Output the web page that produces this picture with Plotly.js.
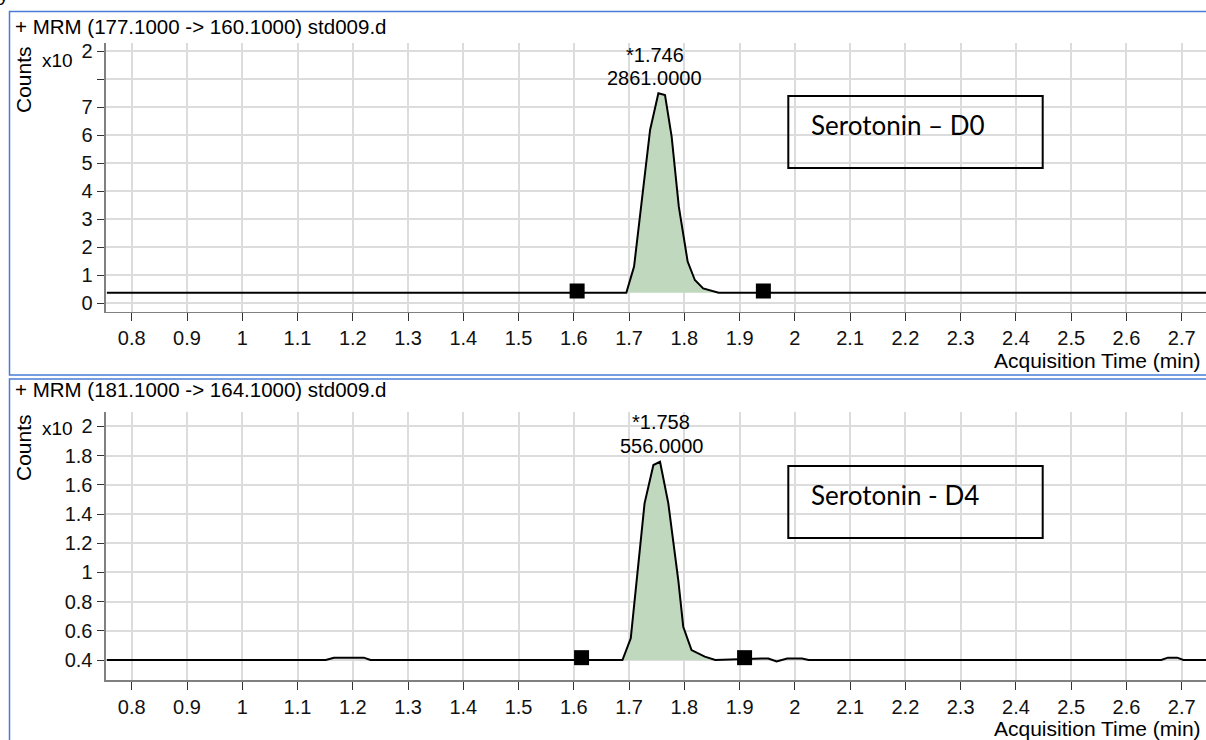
<!DOCTYPE html>
<html><head><meta charset="utf-8">
<script src="https://cdn.plot.ly/plotly-3.0.1.min.js"></script>
<style>html,body{margin:0;padding:0;background:#fff}#chart{width:1206px;height:740px}</style>
</head><body><div id="chart"></div>
<script>
// ---------- DATA ----------
// Panel 1: + MRM (177.1000 -> 160.1000) std009.d   (Counts x10^2)
const timeD0   = [0.755, 1.695, 1.709, 1.738, 1.753, 1.765, 1.777, 1.790, 1.806, 1.819, 1.834, 1.862, 2.745];
const countsD0 = [0.38,  0.38,  1.31,  6.19,  7.50,  7.44,  5.95,  3.45,  1.49,  0.83,  0.53,  0.38,  0.38];
const limitsTimeD0   = [1.606, 1.943];
const limitsCountsD0 = [0.44, 0.44];

// Panel 2: + MRM (181.1000 -> 164.1000) std009.d   (Counts x10^2)
const timeD4   = [0.755, 1.151, 1.166, 1.220, 1.232, 1.688, 1.703, 1.728, 1.744, 1.756, 1.771, 1.789, 1.798, 1.813, 1.837, 1.856,
                  1.940, 1.952, 1.967, 1.986, 2.013, 2.025, 2.663, 2.675, 2.692, 2.703, 2.745];
const countsD4 = [0.40,  0.40,  0.416, 0.416, 0.40,  0.40,  0.549, 1.473, 1.736, 1.758, 1.473, 0.948, 0.628, 0.468, 0.423, 0.40,
                  0.41,  0.41,  0.39,  0.41,  0.41,  0.40,  0.40,  0.416, 0.416, 0.40,  0.40];
const limitsTimeD4   = [1.614, 1.909];
const limitsCountsD4 = [0.416, 0.416];

const headers   = ["+ MRM (177.1000 -> 160.1000) std009.d", "+ MRM (181.1000 -> 164.1000) std009.d"];
const peakRT    = [1.746, 1.758];
const peakArea  = [2861.0, 556.0];
const boxLabels = ["Serotonin \u2013 D0", "Serotonin - D4"];

const xTickVals = [0.8, 0.9, 1.0, 1.1, 1.2, 1.3, 1.4, 1.5, 1.6, 1.7, 1.8, 1.9, 2.0, 2.1, 2.2, 2.3, 2.4, 2.5, 2.6, 2.7];
const xTickText = ["0.8","0.9","1","1.1","1.2","1.3","1.4","1.5","1.6","1.7","1.8","1.9","2","2.1","2.2","2.3","2.4","2.5","2.6","2.7"];
const y1TickVals = [0, 1, 2, 3, 4, 5, 6, 7, 8, 9];
const y1TickText = ["0","1","2","3","4","5","6","7","","2"];
const y2TickVals = [0.4, 0.6, 0.8, 1.0, 1.2, 1.4, 1.6, 1.8, 2.0];
const y2TickText = ["0.4","0.6","0.8","1","1.2","1.4","1.6","1.8","2"];
const xTitle = "Acquisition Time (min)";
const yTitle = "Counts";
const scaleText = "x10";

// ---------- HELPERS ----------
const W = 1206, H = 740;
const px = v => v / W;
const py = v => 1 - v / H;
const FONT = "Liberation Sans, Arial, sans-serif";

function fillTrace(t, c, lim, xa, ya) {
  const xs = [], ys = [];
  for (let i = 0; i < t.length; i++) {
    if (t[i] >= lim[0] && t[i] <= lim[1]) { xs.push(t[i]); ys.push(c[i]); }
  }
  return {x: xs, y: ys, xaxis: xa, yaxis: ya, mode: 'lines', fill: 'toself',
          fillcolor: 'rgb(192,217,190)', line: {width: 0}, hoverinfo: 'skip', showlegend: false};
}

const traces = [
  fillTrace(timeD0, countsD0, limitsTimeD0, 'x', 'y'),
  {x: timeD0, y: countsD0, xaxis: 'x', yaxis: 'y', mode: 'lines', line: {color: '#000', width: 2}, showlegend: false},
  {x: limitsTimeD0, y: limitsCountsD0, xaxis: 'x', yaxis: 'y', mode: 'markers',
   marker: {symbol: 'square', size: 15, color: '#000'}, showlegend: false},
  fillTrace(timeD4, countsD4, limitsTimeD4, 'x2', 'y2'),
  {x: timeD4, y: countsD4, xaxis: 'x2', yaxis: 'y2', mode: 'lines', line: {color: '#000', width: 2}, showlegend: false},
  {x: limitsTimeD4, y: limitsCountsD4, xaxis: 'x2', yaxis: 'y2', mode: 'markers',
   marker: {symbol: 'square', size: 15, color: '#000'}, showlegend: false}
];

const off = 368; // vertical offset of panel 2 (px)
function xAxis(anchor) {
  return {domain: [px(106), 1], range: [0.7534, 2.744], anchor: anchor,
          tickvals: xTickVals, ticktext: xTickText, ticks: 'outside', ticklen: 8, tickcolor: '#333', tickwidth: 1,
          showgrid: true, gridcolor: '#dcdcdc', gridwidth: 2, zeroline: false,
          showline: true, linecolor: '#808080', linewidth: 1.5,
          tickfont: {family: FONT, size: 20, color: '#111'}, fixedrange: true};
}
function yAxis(anchor, dom, rng, tv, tt) {
  return {domain: dom, range: rng, anchor: anchor,
          tickvals: tv, ticktext: tt, ticks: 'outside', ticklen: 7, tickcolor: '#333', tickwidth: 1,
          showgrid: true, gridcolor: '#dcdcdc', gridwidth: 2, zeroline: false,
          showline: true, linecolor: '#808080', linewidth: 2.5,
          tickfont: {family: FONT, size: 20, color: '#111'}, fixedrange: true};
}

const annotations = [];
const shapes = [];
const headerY = [27, 390];
for (let p = 0; p < 2; p++) {
  const o = p * off;
  annotations.push({xref: 'paper', yref: 'paper', x: px(13), y: py(headerY[p]), xanchor: 'left', yanchor: 'middle',
                    text: headers[p], showarrow: false, font: {family: FONT, size: 20.5, color: '#000'}});
  annotations.push({xref: 'paper', yref: 'paper', x: px(1203), y: py(360 + o), xanchor: 'right', yanchor: 'middle',
                    text: xTitle, showarrow: false, font: {family: FONT, size: 21, color: '#000'}});
  annotations.push({xref: 'paper', yref: 'paper', x: px(23), y: py(80 + o), xanchor: 'center', yanchor: 'middle', textangle: -90,
                    text: yTitle, showarrow: false, font: {family: FONT, size: 21, color: '#000'}});
  annotations.push({xref: 'paper', yref: 'paper', x: px(57), y: py(60 + o), xanchor: 'center', yanchor: 'middle',
                    text: scaleText, showarrow: false, font: {family: FONT, size: 19, color: '#000'}});
  const xr = p ? 'x2' : 'x';
  annotations.push({xref: xr, yref: 'paper', x: peakRT[p], y: py(55 + o + (p ? -1 : 0)), xanchor: 'center', yanchor: 'middle',
                    text: '*' + peakRT[p].toFixed(3), showarrow: false, font: {family: FONT, size: 20, color: '#000'}});
  annotations.push({xref: xr, yref: 'paper', x: peakRT[p], y: py(78 + o), xanchor: 'center', yanchor: 'middle',
                    text: peakArea[p].toFixed(4), showarrow: false, font: {family: FONT, size: 20, color: '#000'}});
  annotations.push({xref: 'paper', yref: 'paper', x: px(809), y: py(125 + o + (p ? 2 : 0)), xanchor: 'left', yanchor: 'middle',
                    text: boxLabels[p], showarrow: false, font: {family: 'Lato', size: 26, color: '#000'}});
  shapes.push({type: 'rect', xref: 'paper', yref: 'paper', x0: px(788.3), x1: px(1042.7),
               y0: py(96 + o + (p ? 2 : 0)), y1: py(168 + o + (p ? 2 : 0)), line: {color: '#000', width: 2}, fillcolor: 'rgba(255,255,255,0)'});
}
// panel frames
shapes.push({type: 'rect', xref: 'paper', yref: 'paper', x0: px(9.5), x1: px(1220), y0: py(11.5), y1: py(375),
             line: {color: 'rgb(74,124,214)', width: 1.5}});
shapes.push({type: 'rect', xref: 'paper', yref: 'paper', x0: px(9.5), x1: px(1220), y0: py(379), y1: py(760),
             line: {color: 'rgb(74,124,214)', width: 1.5}});
// cropped character at the very top-left edge (as in the reference)
annotations.push({xref: 'paper', yref: 'paper', x: px(4), y: py(-6), xanchor: 'center', yanchor: 'middle',
                  text: 'y', showarrow: false, font: {family: FONT, size: 19, color: '#000'}});

const layout = {
  width: W, height: H, margin: {l: 0, r: 0, t: 0, b: 0},
  paper_bgcolor: '#fff', plot_bgcolor: '#fff', showlegend: false,
  xaxis: xAxis('y'),
  xaxis2: xAxis('y2'),
  yaxis: yAxis('x', [py(311.7), py(43)], [-0.30, 9.296], y1TickVals, y1TickText),
  yaxis2: yAxis('x2', [py(680), py(412)], [0.263, 2.099], y2TickVals, y2TickText),
  annotations: annotations, shapes: shapes
};

Plotly.newPlot('chart', traces, layout, {displayModeBar: false, staticPlot: true});
</script></body></html>
